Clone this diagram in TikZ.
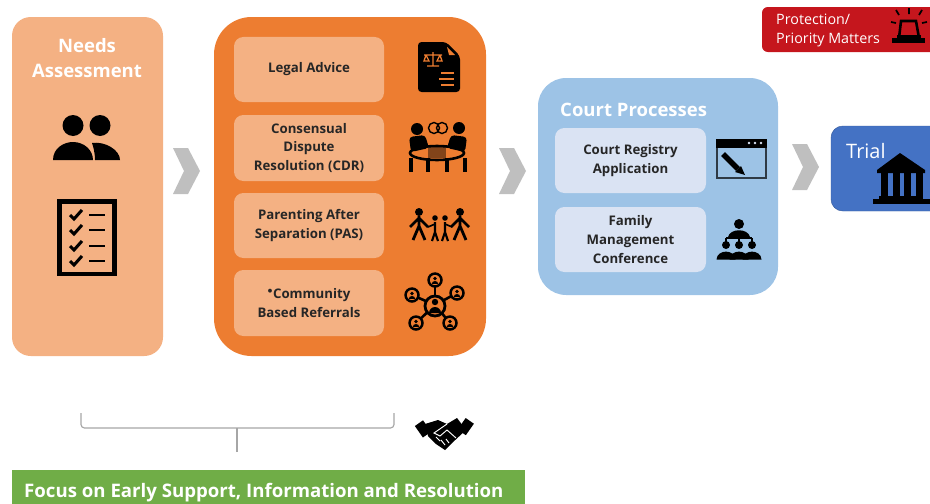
\documentclass[tikz,border=0pt]{standalone}
\usepackage{fontspec}
\setmainfont{Open Sans}
\colorlet{fg}{black}
\definecolor{needsfill}{HTML}{F4B183}
\definecolor{adrfill}{HTML}{ED7D31}
\definecolor{courtfill}{HTML}{9DC3E6}
\definecolor{courtbox}{HTML}{DAE3F3}
\definecolor{trialfill}{HTML}{4472C4}
\definecolor{alertfill}{HTML}{C5161D}
\definecolor{focusfill}{HTML}{70AD47}
\tikzset{
  panel/.style={rounded corners=#1,inner sep=0pt},
  adritem/.style={fill=needsfill,rounded corners=8pt,minimum width=4.5cm,align=center,inner sep=0pt,
    font=\fontsize{11.3}{16}\selectfont\bfseries,text=black!85},
  courtitem/.style={fill=courtbox,rounded corners=8pt,minimum width=4.53cm,minimum height=1.95cm,align=center,inner sep=0pt,
    font=\fontsize{11.3}{16}\selectfont\bfseries,text=black!85},
  heading/.style={text=white,font=\fontsize{15.8}{21}\selectfont\bfseries,align=center,inner sep=0pt},
  bracket/.style={draw=black!35,line width=1pt,rounded corners=3pt}
}
\begin{document}
\begin{tikzpicture}[x=0.03cm,y=-0.03cm]
  \useasboundingbox (0,0) rectangle (930,503);
  % big panels
  \fill[needsfill,panel=16pt] (12,17) rectangle (163,356);
  \fill[adrfill,panel=32pt] (214,17) rectangle (486,356);
  \fill[courtfill,panel=24pt] (538,78) rectangle (778,295);
  \filldraw[fill=trialfill,draw=trialfill!80!black,panel=10pt] (831,126) rectangle (950,211);
  \fill[alertfill,panel=5pt] (762,7) rectangle (950,52);
  \fill[focusfill] (12,470) rectangle (525,510);
  \clip (0,0) rectangle (930,503);
  % chevrons
  \foreach \cx/\cy in {173/148,499/148,792/144}
    \fill[black!25] (\cx,\cy) -- (\cx+15,\cy) -- (\cx+27,\cy+23) -- (\cx+15,\cy+46) -- (\cx,\cy+46) -- (\cx+11,\cy+23) -- cycle;
  % titles
  \node[heading] (needs) at (87,58) {Needs\\Assessment};
  \node[heading,anchor=west] (court) at (560,110) {Court Processes};
  \node[anchor=west,inner sep=0pt,text=white,font=\fontsize{17}{20}\selectfont] (trial) at (846,151) {Trial};
  \node[anchor=west,inner sep=0pt,text=white,align=left,font=\fontsize{12.2}{16.2}\selectfont] (alert) at (776,30) {Protection/\\Priority Matters};
  \node[anchor=west,inner sep=0pt,text=white,font=\fontsize{15.9}{18}\selectfont\bfseries] (focus) at (24,492.5) {Focus on Early Support, Information and Resolution};
  % orange column
  \node[adritem,minimum height=1.95cm] (legal) at (309,69.5) {Legal Advice};
  \node[adritem,minimum height=1.98cm] (cdr) at (309,148) {Consensual\\Dispute\\Resolution (CDR)};
  \node[adritem,minimum height=1.95cm] (pas) at (309,225.5) {Parenting After\\Separation (PAS)};
  \node[adritem,minimum height=1.98cm] (community) at (309,303) {$^{\bullet}$Community\\Based Referrals};
  % blue column
  \node[courtitem] (registry) at (630.5,160.5) {Court Registry\\Application};
  \node[courtitem] (family) at (630.5,239.5) {Family\\Management\\Conference};
  % bracket under first two panels
  \coordinate (bl) at (81,413);
  \coordinate (br) at (394,413);
  \coordinate (bm) at (237,452);
  \draw[bracket] (bl) -- (81,428) -- (394,428) -- (br);
  \draw[bracket] (bm) -- (237,428);
  % people
  \fill[fg] (73,125.5) circle (10.5) (100,125.5) circle (10.5);
  \fill[fg] (53,160) .. controls (53,148) and (64,142) .. (73,142) .. controls (84,142) and (93,150) .. (93,160) -- cycle;
  \fill[fg] (95,160) .. controls (95,152) and (93,146) .. (92,143) .. controls (105,141) and (120,150) .. (120,160) -- cycle;
  % checklist
  \draw[fg,line width=3.8pt] (59.5,201.5) rectangle (114.5,274);
  \foreach \ly in {215,230,246,261} {
    \draw[fg,line width=2.6pt] (70,\ly) -- (74,\ly+4) -- (82,\ly-5);
    \draw[fg,line width=2.4pt] (89,\ly) -- (105,\ly);
  }
  % legal document
  \fill[fg,rounded corners=3pt] (418,42) -- (446,42) -- (460,56) -- (460,92) -- (418,92) -- cycle;
  \fill[adrfill] (447,47) -- (455,55) -- (449,55) -- cycle;
  \draw[adrfill,line width=1.1pt] (424,55) -- (442,55) (433,52) -- (433,66) (427,66) -- (439,66)
    (426,55) -- (424,61) -- (429,61) -- (426,55) (440,55) -- (437,61) -- (442,61) -- (440,55);
  \draw[adrfill,line width=1.2pt] (441,73) -- (454,73) (439,79) -- (454,79) (441,85) -- (454,85);
  % round table
  \fill[fg] (417,129) circle (6) (459,128) circle (6);
  \fill[fg,rounded corners=3pt] (409,137) -- (425,135) -- (429,148) -- (411,152) -- cycle;
  \fill[fg,rounded corners=3pt] (467,137) -- (451,135) -- (447,148) -- (465,152) -- cycle;
  \draw[fg,line width=1.2pt] (434,128) circle (5.5) (442,128) circle (5.5);
  \draw[fg,line width=2.2pt] (437,153) ellipse (27 and 7);
  \fill[fg,opacity=0.45] (428,146) rectangle (446,158);
  \foreach \lx in {411,428,447,465}
    \draw[fg,line width=3.2pt] (\lx,158) -- (\lx,172);
  % family
  \foreach \fx in {419,460} {
    \fill[fg] (\fx,212) circle (4);
    \draw[fg,line width=2.4pt] (\fx,216) -- (\fx,228) (\fx,226) -- (\fx-6,240) (\fx,226) -- (\fx+6,240)
      (\fx,218) -- (\fx-9,227) (\fx,218) -- (\fx+9,227);
  }
  \foreach \fx in {435,445} {
    \fill[fg] (\fx,218) circle (2.8);
    \draw[fg,line width=1.8pt] (\fx,222) -- (\fx,232) -- (\fx-3,241) (\fx,232) -- (\fx+3,241);
  }
  \draw[fg,line width=1.4pt] (428,227) -- (435,224) (452,227) -- (445,224);
  % referral network
  \foreach \nx/\ny in {435/280,457/293,412/295,416/323,450/323} {
    \draw[fg,line width=2.2pt] (\nx,\ny) -- (435,305);
    \fill[adrfill] (\nx,\ny) circle (6.5);
    \draw[fg,line width=2.1pt] (\nx,\ny) circle (6.5);
    \fill[fg] (\nx,\ny-1.5) circle (1.9) (\nx-3.2,\ny+3.8) arc (180:360:3.2 and 2.8) -- cycle;
  }
  \fill[adrfill] (435,306) circle (10);
  \draw[fg,line width=2.4pt] (435,306) circle (10);
  \fill[fg] (435,302) circle (3.2) (429,313) arc (180:360:6 and 6) -- cycle;
  % registry window
  \draw[fg!70!courtfill,line width=1.6pt] (717,140) rectangle (766,178);
  \fill[fg] (716,139) rectangle (767,147.5);
  \fill[courtbox] (749,143) circle (1.4) (755,143) circle (1.4) (761,143) circle (1.4);
  \draw[fg,line width=4.6pt] (723,154) -- (738,169);
  \fill[fg] (735,172) -- (741,166) -- (745,175) -- cycle;
  % management group
  \fill[fg] (739,224) circle (5);
  \fill[fg] (728,237) .. controls (730,228) and (748,228) .. (750,237) -- cycle;
  \draw[fg,line width=0.9pt] (726,238) -- (752,238) (726,238) -- (726,243) (739,236) -- (739,243) (752,238) -- (752,243);
  \foreach \gx in {726,739,752} {
    \fill[fg] (\gx,245) circle (4);
    \fill[fg] (\gx-9.5,259.5) .. controls (\gx-9,249) and (\gx+9,249) .. (\gx+9.5,259.5) -- cycle;
  }
  % courthouse
  \fill[fg] (900,153) -- (925,170) -- (925,173) -- (877,173) -- (877,170) -- cycle;
  \foreach \kx in {881,892.5,904,916}
    \fill[fg] (\kx,173) rectangle (\kx+7,198);
  \fill[fg] (879,196) rectangle (923,200);
  \fill[fg] (873,199) rectangle (930,203.5);
  % alarm
  \fill[fg] (892,38) rectangle (925,43);
  \draw[fg,line width=2.2pt] (899,38) -- (901,21) -- (916,21) -- (919,38);
  \fill[fg] (897,35) rectangle (921,39);
  \draw[fg,line width=1.5pt] (909,8) -- (909,14) (896,10) -- (899,15) (922,10) -- (919,15)
    (891,22) -- (896,23) (927,22) -- (922,23);
  % handshake
  \fill[fg,rotate around={35:(426,428)}] (418,420) rectangle (428,434);
  \fill[fg,rotate around={-35:(466,428)}] (460,420) rectangle (470,434);
  \fill[fg] (425,424) -- (438,420) -- (447,424) -- (457,418) -- (466,430) -- (452,443) -- (445,450) -- (436,444) -- (428,436) -- cycle;
  \draw[white,line width=0.8pt] (447,424) -- (434,433) -- (440,436) -- (447,430) -- (456,438)
    (440,441) -- (436,437) (445,445) -- (441,440) (449,443) -- (446,439);
\end{tikzpicture}
\end{document}
